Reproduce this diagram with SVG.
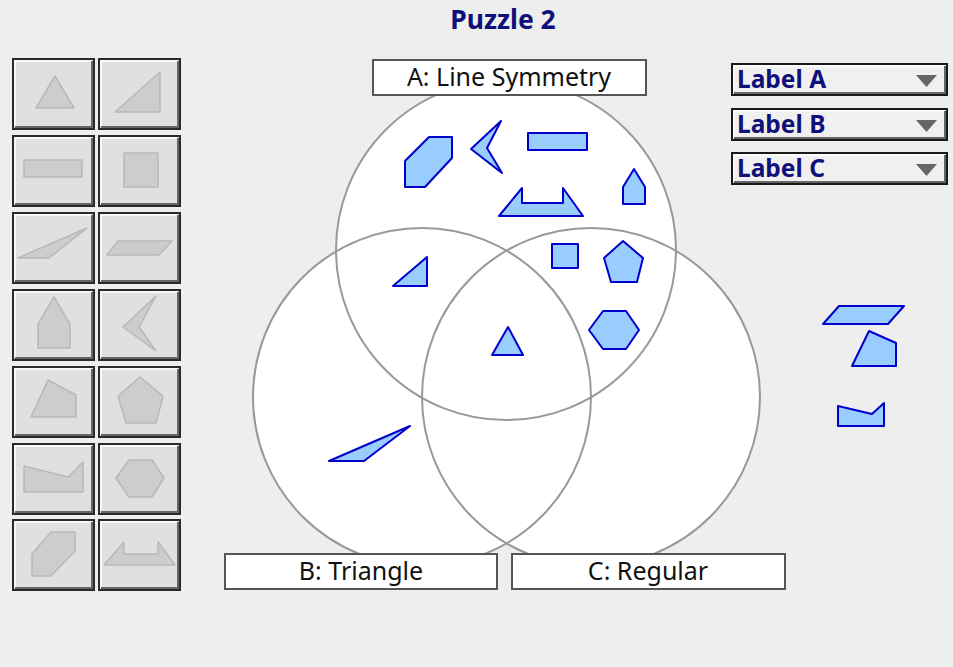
<svg xmlns="http://www.w3.org/2000/svg" width="953" height="667" viewBox="0 0 953 667">
<style>
.btn{fill:#e0e0e0;stroke:#2a2a2a;stroke-width:2}
.hl{fill:none;stroke:#ffffff;stroke-width:1.5}
.sh{fill:none;stroke:#666;stroke-width:2}
.gs{fill:#cdcdcd;stroke:#b8b8b8;stroke-width:1.5;stroke-linejoin:round}
.bs{fill:#99ccff;stroke:#0000cc;stroke-width:2;stroke-linejoin:round}
.cf{fill:#ffffff}
.cs{fill:none;stroke:#999;stroke-width:2}
.lb{fill:#ffffff;stroke:#555;stroke-width:2}
.lt{font-family:"Noto Sans","Open Sans",sans-serif;font-size:25px;fill:#111;text-anchor:middle}
.dd{fill:#f0f0f0;stroke:#1a1a1a;stroke-width:2}
.dt{font-family:"Noto Sans","Open Sans",sans-serif;font-size:24.5px;font-weight:bold;fill:#10107a}
.ar{fill:#666}
</style>
<rect width="953" height="667" fill="#eeeeee"/>
<text x="503" y="29" font-family="'Noto Sans','Open Sans',sans-serif" font-size="26.5" font-weight="bold" fill="#10107a" text-anchor="middle">Puzzle 2</text>

<g id="palette">
<g id="btn1"><rect class="btn" x="13" y="59" width="81" height="70"/><polyline class="hl" points="15,127 15,61 92,61"/><polyline class="sh" points="15,127 92,127 92,61"/><polygon class="gs" points="55,76 74,108 36,108"/></g>
<g id="btn2"><rect class="btn" x="99" y="59" width="81" height="70"/><polyline class="hl" points="101,127 101,61 178,61"/><polyline class="sh" points="101,127 178,127 178,61"/><polygon class="gs" points="115,112 160,72 160,112"/></g>
<g id="btn3"><rect class="btn" x="13" y="136" width="81" height="70"/><polyline class="hl" points="15,204 15,138 92,138"/><polyline class="sh" points="15,204 92,204 92,138"/><rect class="gs" x="24" y="160" width="58" height="17"/></g>
<g id="btn4"><rect class="btn" x="99" y="136" width="81" height="70"/><polyline class="hl" points="101,204 101,138 178,138"/><polyline class="sh" points="101,204 178,204 178,138"/><rect class="gs" x="124" y="153" width="34" height="34"/></g>
<g id="btn5"><rect class="btn" x="13" y="213" width="81" height="70"/><polyline class="hl" points="15,281 15,215 92,215"/><polyline class="sh" points="15,281 92,281 92,215"/><polygon class="gs" points="18,258 87,228 49,258"/></g>
<g id="btn6"><rect class="btn" x="99" y="213" width="81" height="70"/><polyline class="hl" points="101,281 101,215 178,215"/><polyline class="sh" points="101,281 178,281 178,215"/><polygon class="gs" points="107,255 118,241 172,241 159,255"/></g>
<g id="btn7"><rect class="btn" x="13" y="290" width="81" height="70"/><polyline class="hl" points="15,358 15,292 92,292"/><polyline class="sh" points="15,358 92,358 92,292"/><polygon class="gs" points="54,297 70,324 70,348 38,348 38,324"/></g>
<g id="btn8"><rect class="btn" x="99" y="290" width="81" height="70"/><polyline class="hl" points="101,358 101,292 178,292"/><polyline class="sh" points="101,358 178,358 178,292"/><polygon class="gs" points="156,296 139,327 156,351 123,327"/></g>
<g id="btn9"><rect class="btn" x="13" y="367" width="81" height="70"/><polyline class="hl" points="15,435 15,369 92,369"/><polyline class="sh" points="15,435 92,435 92,369"/><polygon class="gs" points="48,380 76,395 76,417 31,417"/></g>
<g id="btn10"><rect class="btn" x="99" y="367" width="81" height="70"/><polyline class="hl" points="101,435 101,369 178,369"/><polyline class="sh" points="101,435 178,435 178,369"/><polygon class="gs" points="140,377 163,396 156,423 126,423 118,396"/></g>
<g id="btn11"><rect class="btn" x="13" y="444" width="81" height="70"/><polyline class="hl" points="15,512 15,446 92,446"/><polyline class="sh" points="15,512 92,512 92,446"/><polygon class="gs" points="24,466 68,477 83,462 83,492 24,492"/></g>
<g id="btn12"><rect class="btn" x="99" y="444" width="81" height="70"/><polyline class="hl" points="101,512 101,446 178,446"/><polyline class="sh" points="101,512 178,512 178,446"/><polygon class="gs" points="116,478 129,460 152,460 164,478 152,497 129,497"/></g>
<g id="btn13"><rect class="btn" x="13" y="520" width="81" height="70"/><polyline class="hl" points="15,588 15,522 92,522"/><polyline class="sh" points="15,588 92,588 92,522"/><polygon class="gs" points="51,532 75,532 75,551 51,576 32,576 32,554"/></g>
<g id="btn14"><rect class="btn" x="99" y="520" width="81" height="70"/><polyline class="hl" points="101,588 101,522 178,522"/><polyline class="sh" points="101,588 178,588 178,522"/><polygon class="gs" points="104,565 124,542 124,554 158,554 158,542 175,565"/></g>
</g>

<g id="venn">
<circle class="cf" cx="506" cy="250" r="170"/>
<circle class="cf" cx="422" cy="397" r="169"/>
<circle class="cf" cx="591" cy="397" r="169"/>
<circle id="circleA" class="cs" cx="506" cy="250" r="170"/>
<circle id="circleB" class="cs" cx="422" cy="397" r="169"/>
<circle id="circleC" class="cs" cx="591" cy="397" r="169"/>
</g>

<g id="labelA"><rect class="lb" x="373" y="60" width="273" height="35"/><text class="lt" x="509" y="86">A: Line Symmetry</text></g>
<g id="labelB"><rect class="lb" x="225" y="554" width="272" height="35"/><text class="lt" x="361" y="580">B: Triangle</text></g>
<g id="labelC"><rect class="lb" x="512" y="554" width="273" height="35"/><text class="lt" x="648" y="580">C: Regular</text></g>

<g id="placed">
<polygon class="bs" points="405,161 429,137 452,137 452,158 425,187 405,187"/>
<polygon class="bs" points="501,121 487,148 502,173 471,149"/>
<rect class="bs" x="528" y="133" width="59" height="17"/>
<polygon class="bs" points="634,169 645,187 645,204 623,204 623,187"/>
<polygon class="bs" points="499,216 522,188 522,203 563,203 563,188 583,216"/>
<polygon class="bs" points="393,286 427,257 427,286"/>
<rect class="bs" x="552" y="244" width="26" height="24"/>
<polygon class="bs" points="623,241 643,258 637,282 611,282 604,258"/>
<polygon class="bs" points="589,330 603,311 626,311 639,330 626,349 603,349"/>
<polygon class="bs" points="508,327 523,355 492,355"/>
<polygon class="bs" points="329,461 410,426 364,461"/>
</g>

<g id="unplaced">
<polygon class="bs" points="823,324 839,306 904,306 888,324"/>
<polygon class="bs" points="869,331 896,343 896,366 852,366"/>
<polygon class="bs" points="838,406 872,414 884,403 884,426 838,426"/>
</g>

<g id="dropdownA"><rect class="dd" x="732" y="64" width="215" height="31"/><polyline class="hl" points="734,93 734,66 945,66"/><polyline class="sh" points="734,93 945,93 945,66"/><text class="dt" x="737" y="88">Label A</text><polygon class="ar" points="916,75 937,75 926.5,87"/></g>
<g id="dropdownB"><rect class="dd" x="732" y="109" width="215" height="31"/><polyline class="hl" points="734,138 734,111 945,111"/><polyline class="sh" points="734,138 945,138 945,111"/><text class="dt" x="737" y="133">Label B</text><polygon class="ar" points="916,120 937,120 926.5,132"/></g>
<g id="dropdownC"><rect class="dd" x="732" y="153" width="215" height="31"/><polyline class="hl" points="734,182 734,155 945,155"/><polyline class="sh" points="734,182 945,182 945,155"/><text class="dt" x="737" y="177">Label C</text><polygon class="ar" points="916,164 937,164 926.5,176"/></g>
</svg>
